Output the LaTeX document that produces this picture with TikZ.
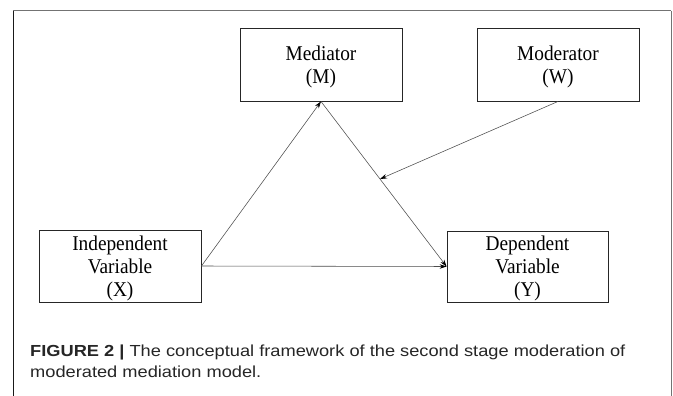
\documentclass[tikz,border=0pt]{standalone}
\usepackage{fontspec}
\setmainfont{Liberation Serif}[FakeStretch=0.92]
\newfontfamily\capfont{Liberation Sans}[FakeStretch=1.14]
\usetikzlibrary{arrows.meta,calc}
\begin{document}
\begin{tikzpicture}[x=1pt,y=-1pt,
  varbox/.style={draw=black!85,line width=0.9pt,minimum width=162pt,minimum height=73pt,inner sep=0pt},
  boxtext/.style={align=center,inner sep=0pt,font=\fontsize{21}{23}\selectfont},
  link/.style={draw=black!70,line width=0.55pt,-{Stealth[length=7pt,width=4.5pt,color=black]}},
  frameline/.style={line width=1pt},
  captext/.style={anchor=base west,inner sep=0pt,text=black!85,font=\capfont\fontsize{16}{20}\selectfont}]
\useasboundingbox (0,0) rectangle (673,396);
\fill[white] (0,0) rectangle (673,396);
% outer frame
\draw[frameline,draw=black!55] (13,11) -- (671,11);
\draw[frameline,draw=black!90] (13,11) -- (13,396);
\draw[frameline,draw=black!55] (671,11) -- (671,396);
% variable boxes
\node[varbox] (M) at (321,64.5) {};
\node[varbox] (W) at (558,64.5) {};
\node[varbox,minimum height=72pt] (X) at (120,266) {};
\node[varbox,minimum width=161pt,minimum height=71pt] (Y) at (527.5,266.5) {};
% box labels
\node[boxtext] (Mt) at ($(M.center)+(0,2)$) {Mediator\\(M)};
\node[boxtext] (Wt) at ($(W.center)+(0,2)$) {Moderator\\(W)};
\node[boxtext] (Xt) at ($(X.center)+(0,2)$) {Independent\\Variable\\(X)};
\node[boxtext] (Yt) at ($(Y.center)+(0,1.5)$) {Dependent\\Variable\\(Y)};
% paths
\draw[link] (X.east) -- (M.south);
\draw[link] (M.south) -- (Y.west);
\draw[link] (X.east) -- (Y.west);
\coordinate (Mid) at ($(M.south)!0.47!(Y.west)$);
\draw[link] (W.south) -- (Mid);
% caption
\node[captext] (cap1) at (30,356) {\textbf{FIGURE 2} \textbf{|} The conceptual framework of the second stage moderation of};
\node[captext] (cap2) at (30,377) {moderated mediation model.};
\end{tikzpicture}
\end{document}
